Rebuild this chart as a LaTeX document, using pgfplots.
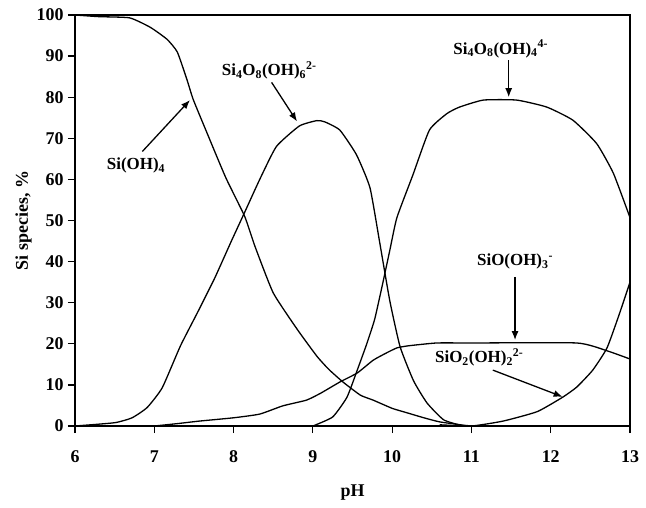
\documentclass[border=0pt]{standalone}
\usepackage{pgfplots}
\pgfplotsset{compat=1.18}
\usepackage{fontspec}
\setmainfont{Liberation Serif}
\usetikzlibrary{arrows.meta}

\newcommand{\lab}{\bfseries\fontsize{17}{19}\selectfont}

\begin{document}
\begin{tikzpicture}[>={Latex[length=9bp,width=7bp]},
    curve/.style={black, line width=1.3bp, smooth, tension=0.3, no marks}]
\begin{axis}[
    scale only axis,
    width=555bp, height=411bp,
    xmin=6, xmax=13, ymin=0, ymax=100,
    xtick={6,...,13}, ytick={0,10,...,100},
    tick align=outside, tick pos=left,
    major tick length=7bp,
    every tick/.style={black, line width=1.2bp},
    axis line style={line width=1.2bp},
    /pgf/number format/assume math mode=true,
    ticklabel style={font=\bfseries\fontsize{18}{20}\selectfont},
    xticklabel style={yshift=-14bp},
    yticklabel style={xshift=-1bp},
    xlabel={pH}, ylabel={Si species, \%},
    label style={font=\bfseries\fontsize{18}{20}\selectfont},
    xlabel style={yshift=-15bp},
    ylabel style={yshift=-2bp},
]
% Si(OH)4
\addplot[curve] coordinates {(6.0,100) (6.3,99.6) (6.69,99.3) (6.95,97) (7.16,94.1)
 (7.29,91) (7.41,84.4) (7.49,79.5) (7.65,72) (7.9,60.5) (8.14,51) (8.27,43.7)
 (8.5,32.4) (8.8,23.6) (9.05,17) (9.2,13.8) (9.38,10.7) (9.6,7.5) (9.76,6.3)
 (10.0,4.3) (10.19,3.2) (10.4,2) (10.6,1) (10.9,0.2) (11.0,0)};
% Si4O8(OH)6 2-
\addplot[curve] coordinates {(6.0,0) (6.5,0.8) (6.72,2) (6.91,4.5) (7.1,9.3)
 (7.33,19.5) (7.55,27.8) (7.76,35.9) (7.97,44.9) (8.14,52) (8.33,60) (8.54,68)
 (8.83,73) (9.05,74.3) (9.15,74) (9.34,72) (9.55,66) (9.72,58) (9.84,45) (9.97,30.5)
 (10.1,19.3) (10.27,11) (10.44,5.6) (10.65,1.5) (10.9,0) (11.0,0)};
% Si4O8(OH)4 4-
\addplot[curve] coordinates {(9.0,0) (9.25,2.2) (9.43,7) (9.56,13.6) (9.68,20) (9.78,26)
 (9.88,34.6) (9.97,42.7) (10.06,50.7) (10.26,61) (10.47,72) (10.69,76) (10.85,77.6)
 (11.15,79.3) (11.57,79.3) (11.95,77.6) (12.28,74.4) (12.58,68.7) (12.79,61.5) (13.0,50.7)};
% SiO(OH)3 -
\addplot[curve] coordinates {(7.0,0) (7.3,0.6) (7.57,1.2) (8.0,2) (8.33,2.9) (8.62,4.9)
 (8.92,6.3) (9.1,8) (9.34,10.7) (9.56,12.9) (9.76,16) (9.93,17.8) (10.06,19)
 (10.2,19.5) (10.56,20.2) (11.0,20.2) (12.33,20.2) (12.71,18.3) (13.0,16.3)};
% SiO2(OH)2 2-
\addplot[curve] coordinates {(10.6,0.3) (11.0,0) (11.4,1.2) (11.83,3.5) (12.15,7) (12.33,9.5)
 (12.53,13.6) (12.71,19) (12.87,27.5) (13.0,35)};

% labels and arrows
\node[anchor=base west, inner sep=0pt] at (axis cs:6.40,62.4) {\lab Si(OH)\textsubscript{4}};
\draw[->, line width=1.3bp] (axis cs:6.85,66.8) -- (axis cs:7.45,79.3);
\node[anchor=base west, inner sep=0pt] at (axis cs:7.85,85.2) {\lab Si\textsubscript{4}O\textsubscript{8}(OH)\textsubscript{6}\textsuperscript{2-}};
\draw[->, line width=1.3bp] (axis cs:8.48,83.6) -- (axis cs:8.80,74.1);
\node[anchor=base west, inner sep=0pt] at (axis cs:10.77,90.5) {\lab Si\textsubscript{4}O\textsubscript{8}(OH)\textsubscript{4}\textsuperscript{4-}};
\draw[->, line width=1.3bp] (axis cs:11.47,89.0) -- (axis cs:11.47,80);
\node[anchor=base west, inner sep=0pt] at (axis cs:11.07,39) {\lab SiO(OH)\textsubscript{3}\textsuperscript{-}};
\draw[->, line width=1.3bp] (axis cs:11.55,36.3) -- (axis cs:11.55,20.9);
\node[anchor=base west, inner sep=0pt] at (axis cs:10.54,15.4) {\lab SiO\textsubscript{2}(OH)\textsubscript{2}\textsuperscript{2-}};
\draw[->, line width=1.3bp] (axis cs:11.27,13.6) -- (axis cs:12.15,7.1);

% heavier left and bottom axis lines
\draw[line width=2.4bp] (rel axis cs:0,1) -- (rel axis cs:0,0) -- (rel axis cs:1,0);
\coordinate (sw) at (rel axis cs:0,0);
\coordinate (ne) at (rel axis cs:1,1);
\end{axis}
\pgfresetboundingbox
\path[use as bounding box] ([shift={(-75bp,-81bp)}]sw) rectangle ([shift={(16bp,15bp)}]ne);
\end{tikzpicture}
\end{document}
